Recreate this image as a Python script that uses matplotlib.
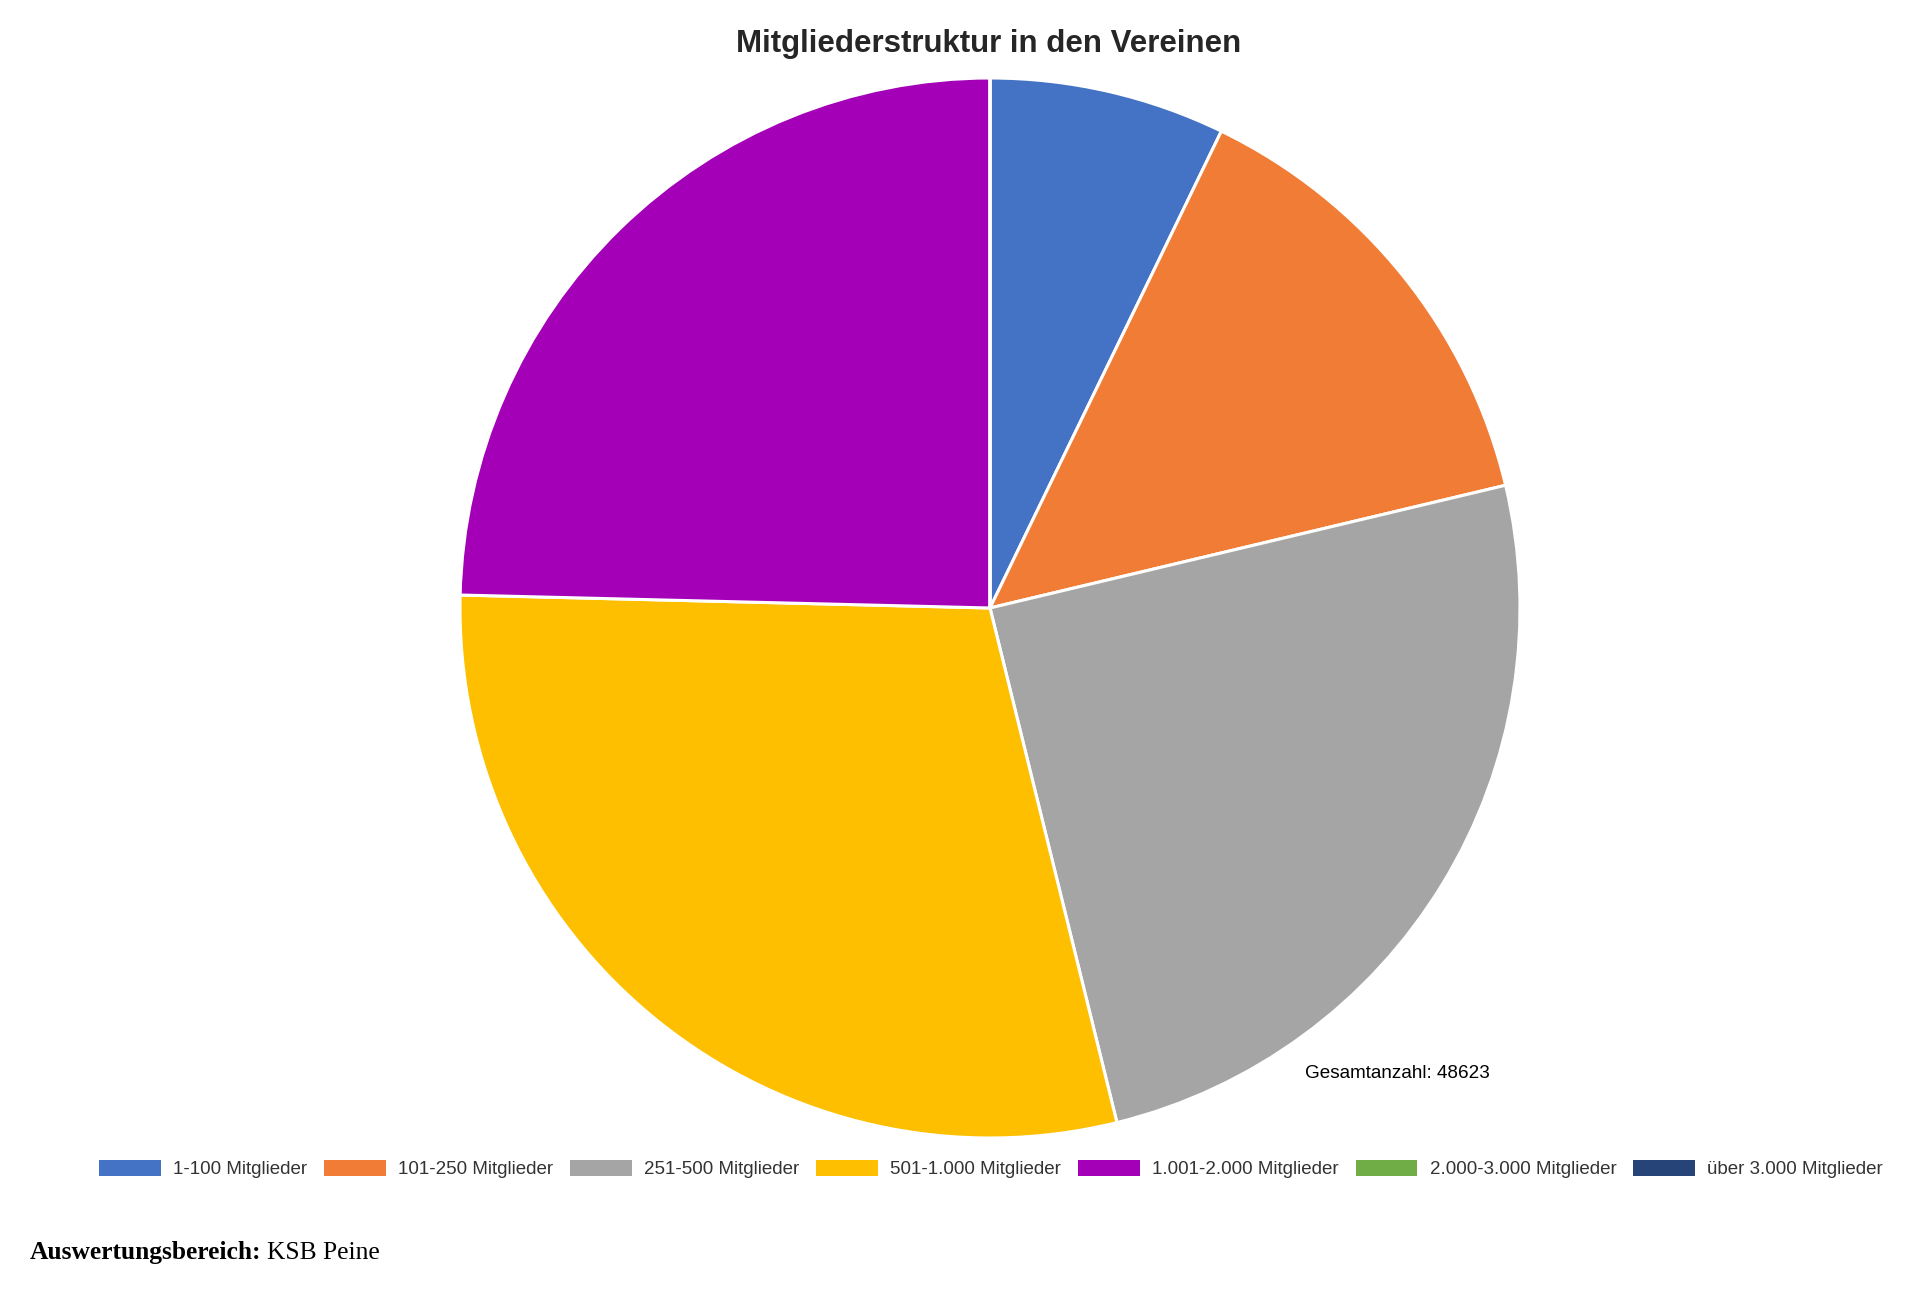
import matplotlib.pyplot as plt
from matplotlib.patches import Rectangle

# Mitgliederstruktur - Werte (Mitglieder je Vereinsgröße)
kategorien = ['1-100 Mitglieder', '101-250 Mitglieder', '251-500 Mitglieder',
              '501-1.000 Mitglieder', '1.001-2.000 Mitglieder',
              '2.000-3.000 Mitglieder', 'über 3.000 Mitglieder']
werte = [3496, 6851, 12093, 14217, 11966, 0, 0]
farben = ['#4472C4', '#F07C35', '#A5A5A5', '#FDBF00', '#A300B8', '#70AD47', '#264478']
gesamt = 48623

plt.rcParams['font.family'] = ['Liberation Sans', 'DejaVu Sans']

fig = plt.figure(figsize=(19.2, 12.99), dpi=100)

# Achse so, dass Kreis bei (990, 608) px mit Radius 530 px liegt
cx, cy, r = 990 / 1920, 1 - 608 / 1299, 530
ax = fig.add_axes([cx - r / 1920, cy - r / 1299, 2 * r / 1920, 2 * r / 1299])
wedges, _ = ax.pie(werte, colors=farben, startangle=90, counterclock=False,
                   radius=1, wedgeprops=dict(edgecolor='white', linewidth=2.2))
ax.set_xlim(-1, 1)
ax.set_ylim(-1, 1)
ax.set_aspect('equal')
ax.axis('off')

fig.text(989 / 1920, 1 - 44 / 1299, 'Mitgliederstruktur in den Vereinen',
         ha='center', va='center', fontsize=22.5, fontweight='bold', color='#262626')

fig.text(1305 / 1920, 1 - 1073 / 1299, f'Gesamtanzahl: {gesamt}',
         ha='left', va='center', fontsize=13.6, color='#000000')

# Legende ohne weiße Kanten
handles = [Rectangle((0, 0), 1, 1, facecolor=w.get_facecolor(), edgecolor='none') for w in wedges]
fig.legend(handles, kategorien, loc='center', bbox_to_anchor=(991 / 1920, 1 - 1169 / 1299),
           ncol=7, frameon=False, fontsize=13.5, handlelength=3.3, handleheight=0.92,
           handletextpad=0.65, columnspacing=0.9, labelcolor='#333333')

t = fig.text(30 / 1920, 1 - 1253 / 1299, 'Auswertungsbereich:', ha='left', va='center',
             fontsize=18.4, fontweight='bold', family='Liberation Serif')
fig.canvas.draw()
bb = t.get_window_extent()
fig.text(bb.x1 / 1920 + 0.003, 1 - 1253 / 1299, 'KSB Peine', ha='left', va='center',
         fontsize=18.4, family='Liberation Serif')

fig.savefig('out.png', dpi=100, facecolor='white')
